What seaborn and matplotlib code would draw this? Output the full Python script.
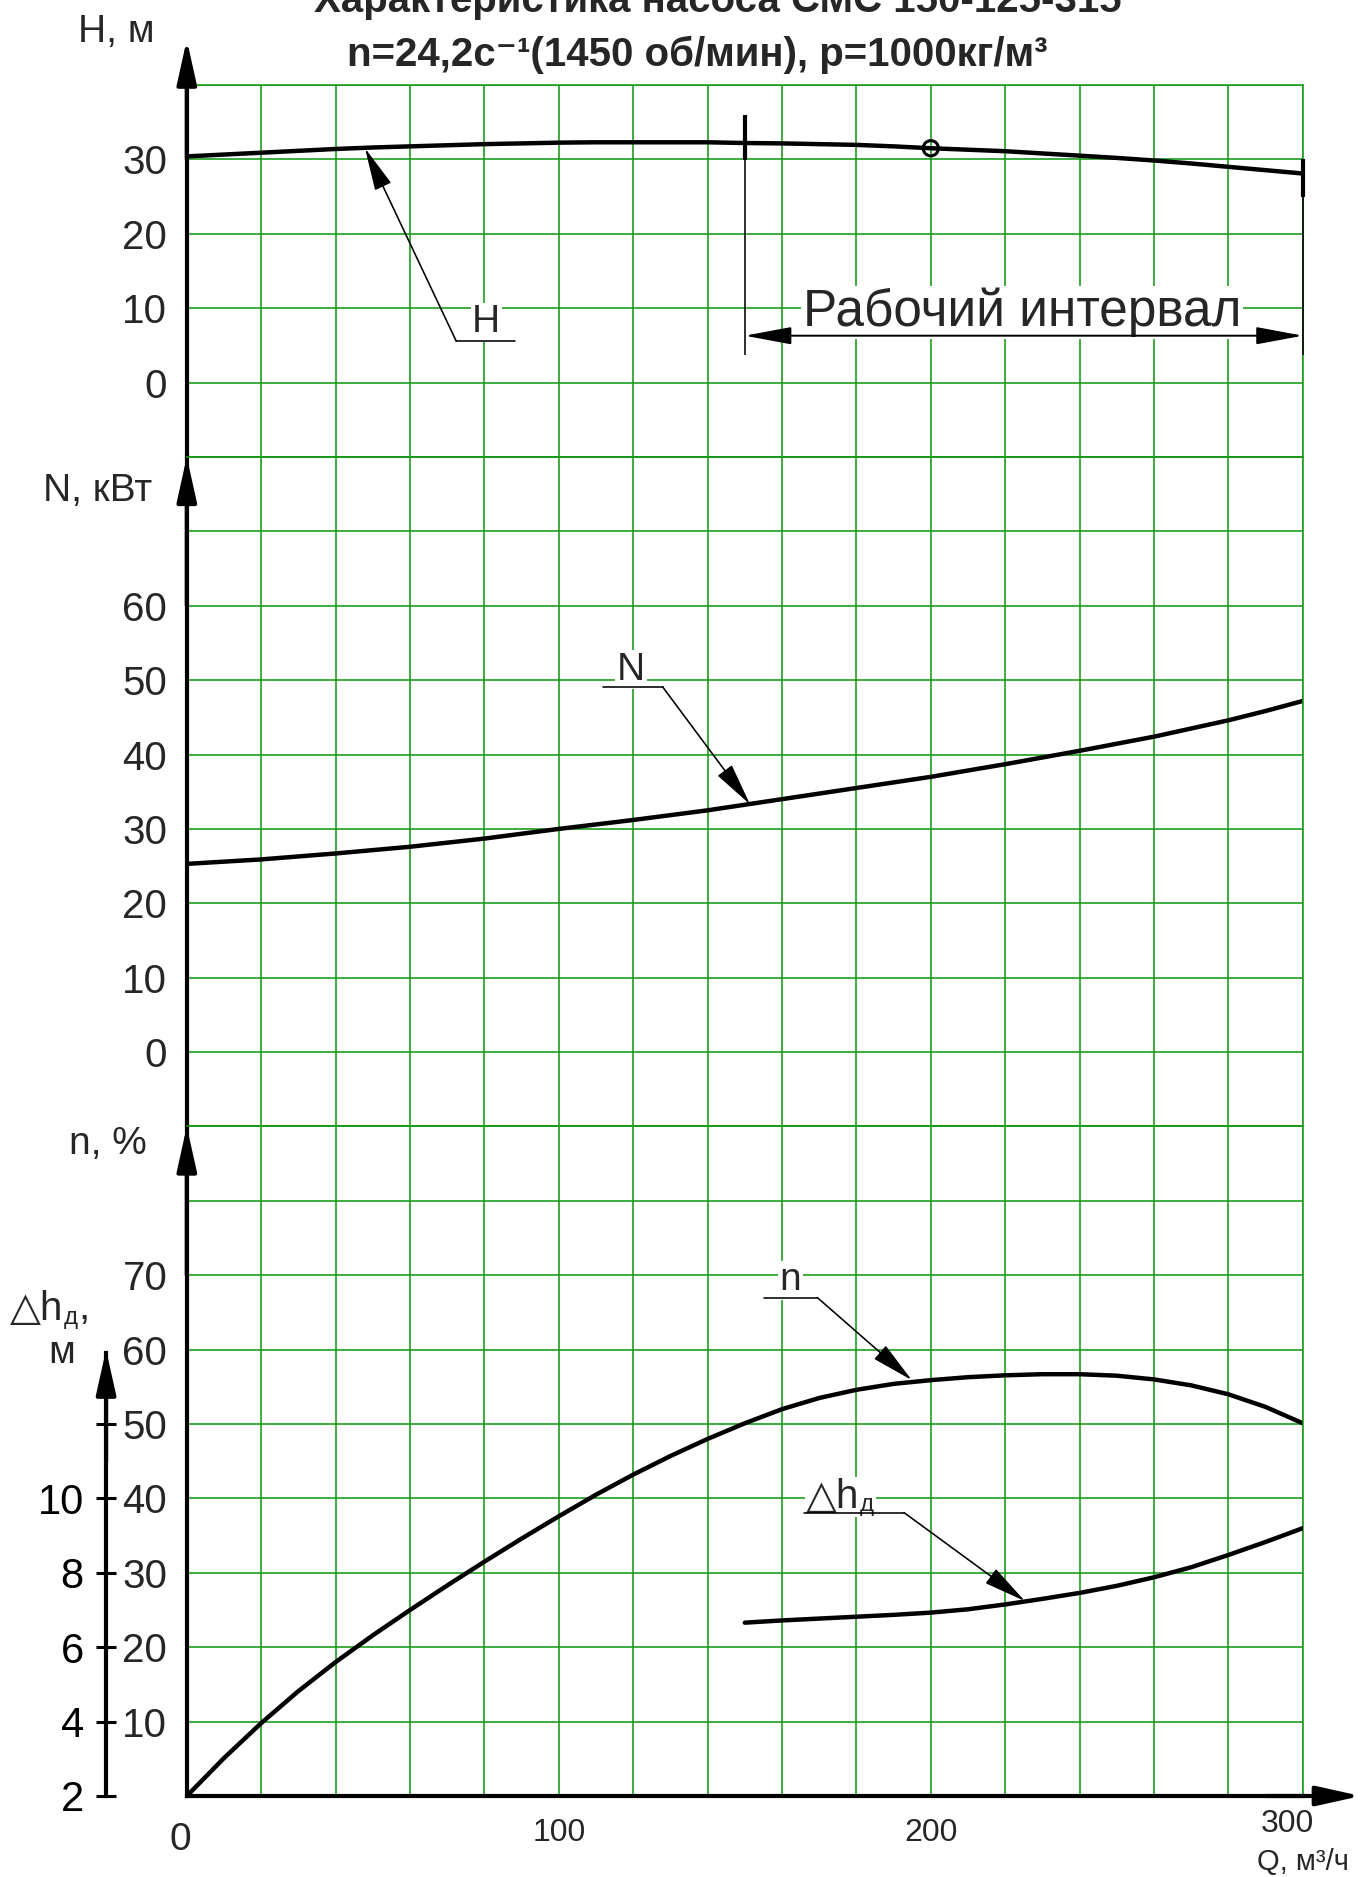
"""Pump curve sheet: СМС 150-125-315, head / power / efficiency / NPSH vs flow."""
import matplotlib
matplotlib.use("Agg")
import matplotlib.pyplot as plt
import seaborn as sns

# ---------------------------------------------------------------------------
# data
# ---------------------------------------------------------------------------
Q = [0, 10, 20, 30, 40, 50, 60, 70, 80, 90, 100, 110, 120, 130, 140, 150,
     160, 170, 180, 190, 200, 210, 220, 230, 240, 250, 260, 270, 280, 290, 300]
HEAD = [30.4, 30.65, 30.9, 31.15, 31.4, 31.6, 31.75, 31.9, 32.05, 32.15, 32.25,
        32.3, 32.3, 32.3, 32.3, 32.2, 32.15, 32.05, 31.95, 31.75, 31.5, 31.3,
        31.1, 30.8, 30.5, 30.2, 29.85, 29.45, 29.0, 28.55, 28.1]
POWER = [25.3, 25.6, 25.9, 26.3, 26.7, 27.15, 27.6, 28.15, 28.7, 29.35, 30.0,
         30.6, 31.2, 31.85, 32.5, 33.25, 34.0, 34.75, 35.5, 36.25, 37.0, 37.85,
         38.7, 39.6, 40.5, 41.45, 42.4, 43.5, 44.6, 45.85, 47.2]
EFF = [0, 5.1, 9.8, 14.1, 18.0, 21.6, 25.0, 28.3, 31.5, 34.6, 37.6, 40.5, 43.2,
       45.7, 48.0, 50.1, 52.0, 53.5, 54.6, 55.4, 55.9, 56.3, 56.55, 56.7, 56.7,
       56.5, 56.0, 55.2, 54.0, 52.3, 50.1]
Q_NPSH = [150, 160, 170, 180, 190, 200, 210, 220, 230, 240, 250, 260, 270, 280, 290, 300]
NPSH = [6.66, 6.72, 6.77, 6.82, 6.87, 6.93, 7.02, 7.15, 7.3, 7.46, 7.65, 7.88,
        8.15, 8.48, 8.83, 9.2]

Q_WORK = [150, 300]          # рабочий интервал
BEP_Q, BEP_H = [200], [31.5]

H_TICKS = [0, 10, 20, 30]
N_TICKS = [0, 10, 20, 30, 40, 50, 60]
EFF_TICKS = [10, 20, 30, 40, 50, 60, 70]
NPSH_TICKS = [2, 4, 6, 8, 10]
Q_TICKS = [100, 200]

TITLE1 = "Характеристика насоса СМС 150-125-315"
TITLE2 = "n=24,2c⁻¹(1450 об/мин), p=1000кг/м³"

# ---------------------------------------------------------------------------
GREEN = "#159a15"
W, HP = 1371, 1877
LW_CURVE, LW_AXIS, LW_THIN = 3.2, 3.0, 1.15

sns.set_theme(style="white")
plt.rcParams["font.family"] = ["Liberation Sans", "DejaVu Sans"]


def fx(px):
    return px / W


def fy(py):
    return 1 - py / HP


def arrow(ax, tip, base, hl=1.35, hw=0.28, lw=LW_THIN, **kw):
    ax.annotate("", xy=tip, xytext=base, annotation_clip=False,
                arrowprops=dict(arrowstyle=f"-|>,head_length={hl},head_width={hw}",
                                color="black", lw=lw, shrinkA=0, shrinkB=0,
                                mutation_scale=20), **kw)


def leader(ax, label, text_xy, line_x, line_y, tip, from_right=True, size=28):
    ax.text(*text_xy, label, ha="center", va="center", fontsize=size, zorder=4,
            bbox=dict(fc="white", ec="none", pad=1))
    ax.plot(line_x, [line_y, line_y], color="black", lw=LW_THIN, zorder=5)
    start = (line_x[1] if from_right else line_x[0], line_y)
    arrow(ax, tip, start)


def dh_word(ax, base, size, sub, tail="", box=False):
    """'△h' with a small subscript 'д' glued to the right of the base text."""
    extra = dict(bbox=dict(fc="white", ec="none", pad=1)) if box else {}
    s = ax.annotate(sub, xy=(1, 0), xycoords=base, xytext=(0.5, 0.212 * size - 3),
                    textcoords="offset points", ha="left", va="baseline",
                    fontsize=size * 0.6, zorder=4, annotation_clip=False, **extra)
    if tail:
        ax.annotate(tail, xy=(1, 0), xycoords=s, xytext=(0.5, 0.212 * size * 0.6 + 3),
                    textcoords="offset points", ha="left", va="baseline",
                    fontsize=size, annotation_clip=False)


fig = plt.figure(figsize=(W / 100, HP / 100), dpi=100)
gs = fig.add_gridspec(3, 1, height_ratios=[5, 9, 9], hspace=0,
                      left=fx(186.8), right=fx(1302.8), top=fy(85), bottom=fy(1796))
ax_h = fig.add_subplot(gs[0])
ax_p = fig.add_subplot(gs[1], sharex=ax_h)
ax_e = fig.add_subplot(gs[2], sharex=ax_h)

sections = [(ax_h, (-10, 40), H_TICKS), (ax_p, (-10, 80), N_TICKS), (ax_e, (0, 90), EFF_TICKS)]
for ax, (lo, hi), labelled in sections:
    ax.set_xlim(0, 300)
    ax.set_ylim(lo, hi)
    ticks = list(range(lo, hi + 1, 10))
    ax.set_yticks(ticks, labels=[str(t) if t in labelled else "" for t in ticks])
    ax.set_xticks(range(0, 301, 20))
    ax.grid(True, color=GREEN, lw=LW_THIN)
    ax.set_axisbelow(True)
    ax.tick_params(axis="y", length=0, pad=14, labelsize=29)
    ax.tick_params(axis="x", length=0, labelbottom=False)
    for side in ("top", "right", "bottom"):
        ax.spines[side].set_color(GREEN)
        ax.spines[side].set_linewidth(LW_THIN)
    ax.spines["left"].set_color("black")
    ax.spines["left"].set_linewidth(LW_AXIS)

ax_e.spines["bottom"].set_color("black")
ax_e.spines["bottom"].set_linewidth(LW_AXIS)
ax_e.set_xticks(range(0, 301, 20),
                labels=[str(t) if t in Q_TICKS else "" for t in range(0, 301, 20)])
ax_e.tick_params(axis="x", labelbottom=True, pad=16, labelsize=23)

# secondary NPSH scale on the left of the efficiency block
ax_d = ax_e.twinx()
ax_d.set_ylim(2, 20)
ax_d.yaxis.tick_left()
ax_d.spines["left"].set_position(("data", -21.7))
ax_d.spines["left"].set_bounds(2, 13.9)
ax_d.spines["left"].set_linewidth(LW_AXIS)
ax_d.spines["left"].set_color("black")
for side in ("top", "right", "bottom"):
    ax_d.spines[side].set_visible(False)
d_ticks = list(range(2, 13, 2))
ax_d.set_yticks(d_ticks, labels=[str(t) if t in NPSH_TICKS else "" for t in d_ticks])
ax_d.tick_params(axis="y", direction="inout", length=14, width=2.2, pad=9,
                 labelsize=30, colors="black")
ax_d.grid(False)

# curves
sns.lineplot(x=Q, y=HEAD, ax=ax_h, color="black", lw=LW_CURVE)
sns.lineplot(x=Q, y=POWER, ax=ax_p, color="black", lw=LW_CURVE)
sns.lineplot(x=Q, y=EFF, ax=ax_e, color="black", lw=LW_CURVE)
sns.lineplot(x=Q_NPSH, y=NPSH, ax=ax_d, color="black", lw=LW_CURVE)
sns.scatterplot(x=BEP_Q, y=BEP_H, ax=ax_h, s=120, facecolor="none",
                edgecolor="black", linewidth=2.2, zorder=6)
for ax in (ax_h, ax_p, ax_e, ax_d):
    ax.set_xlabel("")
    ax.set_ylabel("")

# working range: marks on the H curve + dimension line
for q, (lo, hi) in zip(Q_WORK, [(29.9, 36.0), (25.0, 30.1)]):
    ax_h.vlines(q, lo, hi, color="black", lw=LW_AXIS, zorder=6, clip_on=False)
    ax_h.vlines(q, 3.7, lo, color="black", lw=LW_THIN, zorder=6, clip_on=False)
ax_h.annotate("", xy=(Q_WORK[0], 6.3), xytext=(Q_WORK[1], 6.3),
              arrowprops=dict(arrowstyle="<|-|>,head_length=1.45,head_width=0.27",
                              color="black", lw=1.4, shrinkA=0, shrinkB=0,
                              mutation_scale=20), zorder=6)
ax_h.text(224.5, 7.6, "Рабочий интервал", ha="center", va="baseline", fontsize=37,
          zorder=4, bbox=dict(fc="white", ec="none", pad=1))

# curve callouts
leader(ax_h, "H", (80.5, 8.1), [72.4, 88.2], 5.6, (47.9, 31.5), from_right=False)
leader(ax_p, "N", (119.4, 51.4), [111.8, 127.9], 49.1, (151.4, 33.3))
leader(ax_e, "n", (162.2, 69.3), [155.2, 169.5], 67.0, (194.9, 55.9))
t = ax_d.text(180.8, 9.75, "△h", ha="right", va="baseline", fontsize=29, zorder=4,
              bbox=dict(fc="white", ec="none", pad=1))
dh_word(ax_d, t, 29, "д", box=True)
ax_d.plot([165.9, 192.8], [9.62, 9.62], color="black", lw=LW_THIN, zorder=5)
arrow(ax_d, (225.3, 7.24), (192.8, 9.62))

# axis arrows
arrow(ax_h, (0, 46.1), (0, 30), hw=0.3, lw=LW_AXIS)
arrow(ax_p, (0, 80), (0, 60), hw=0.3, lw=LW_AXIS)
arrow(ax_e, (0, 90), (0, 70), hw=0.3, lw=LW_AXIS)
arrow(ax_e, (315.6, 0), (290, 0), hw=0.3, lw=LW_AXIS)
arrow(ax_d, (-21.7, 14.0), (-21.7, 11), hw=0.3, lw=LW_AXIS)

# axis captions
fig.text(fx(116), fy(32), "H, м", ha="center", va="center", fontsize=28)
fig.text(fx(98), fy(491), "N, кВт", ha="center", va="center", fontsize=28)
fig.text(fx(108), fy(1144), "n, %", ha="center", va="center", fontsize=28)
c = fig.text(fx(10), fy(1320), "△h", ha="left", va="baseline", fontsize=29)
dh_word(ax_e, c, 29, "д", tail=",")
fig.text(fx(62), fy(1353), "м", ha="center", va="center", fontsize=28)
fig.text(fx(180), fy(1840), "0", ha="center", va="center", fontsize=28)
fig.text(fx(1287), fy(1824), "300", ha="center", va="center", fontsize=23)
fig.text(fx(1303), fy(1862), "Q, м³/ч", ha="center", va="center", fontsize=21)

# title (first line runs off the top of the sheet)
fig.text(fx(718), fy(12), TITLE1, ha="center", va="baseline", fontsize=29,
         fontweight="bold")
fig.text(fx(697), fy(66), TITLE2, ha="center", va="baseline", fontsize=29,
         fontweight="bold")

fig.savefig("out.png", dpi=100)
